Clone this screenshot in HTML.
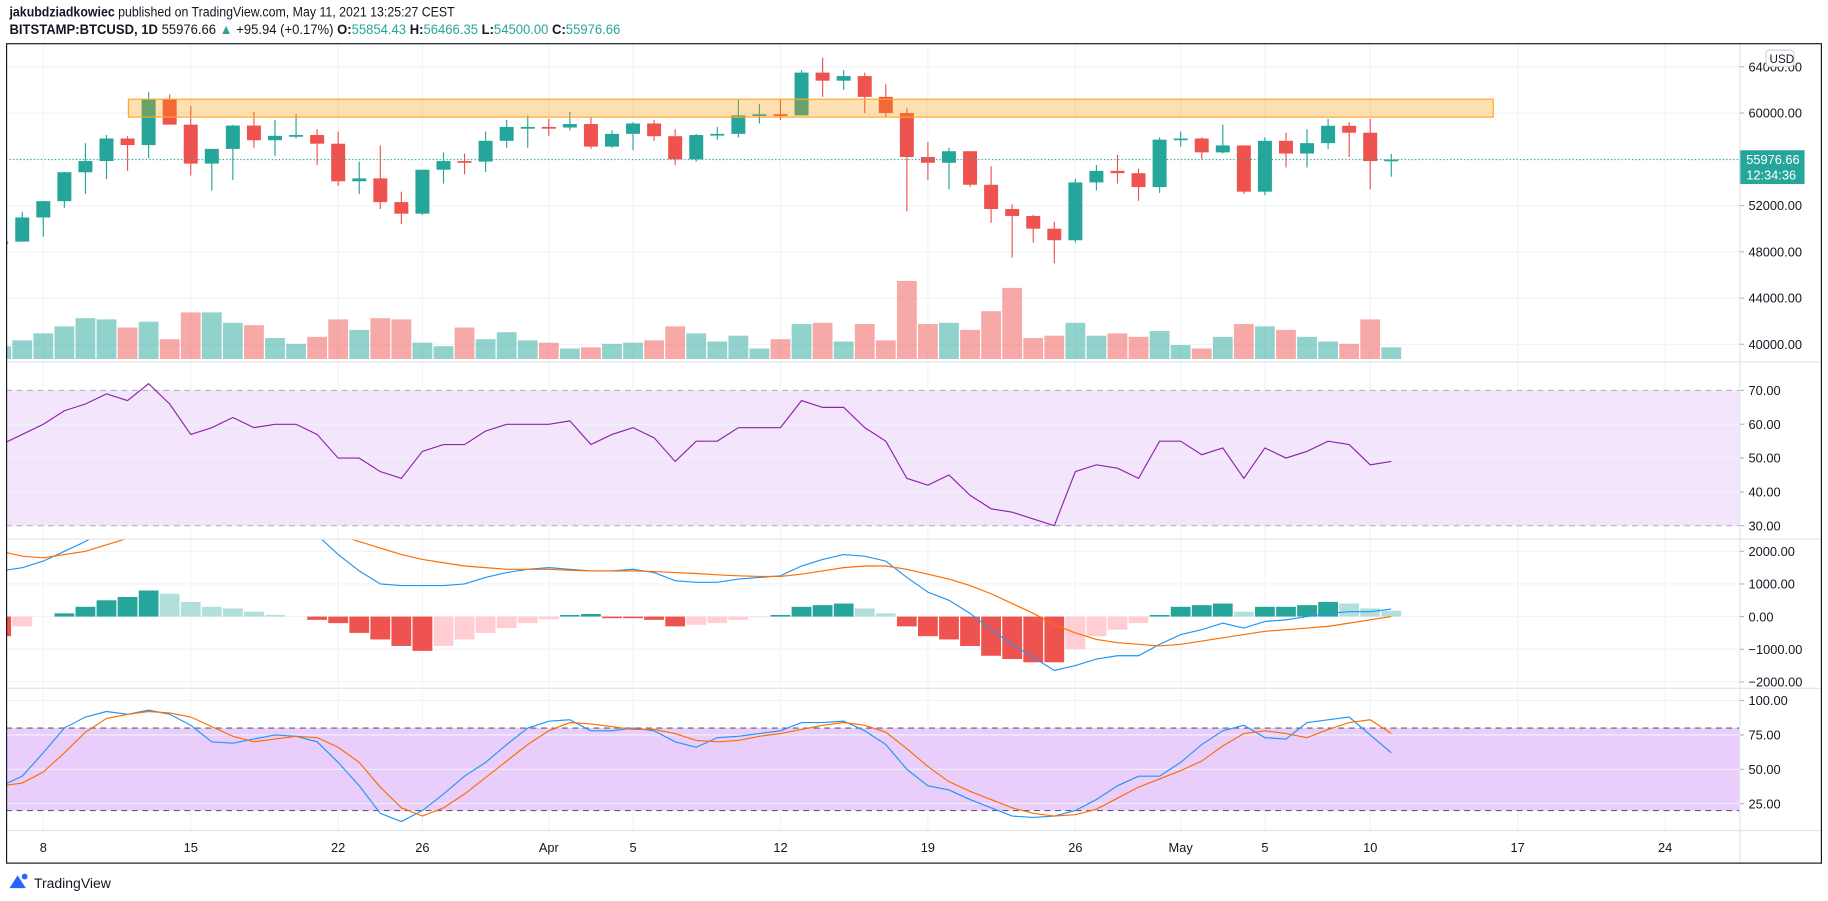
<!DOCTYPE html>
<html><head><meta charset="utf-8"><style>
html,body{margin:0;padding:0;background:#fff;}
svg{display:block;font-family:"Liberation Sans",sans-serif;}
</style></head><body>
<svg id="c" width="1828" height="901" viewBox="0 0 1568 773"></svg>
<script>
// ---- data ----
const dates=["Mar6","Mar7","Mar8","Mar9","Mar10","Mar11","Mar12","Mar13","Mar14","Mar15","Mar16","Mar17","Mar18","Mar19","Mar20","Mar21","Mar22","Mar23","Mar24","Mar25","Mar26","Mar27","Mar28","Mar29","Mar30","Mar31","Apr1","Apr2","Apr3","Apr4","Apr5","Apr6","Apr7","Apr8","Apr9","Apr10","Apr11","Apr12","Apr13","Apr14","Apr15","Apr16","Apr17","Apr18","Apr19","Apr20","Apr21","Apr22","Apr23","Apr24","Apr25","Apr26","Apr27","Apr28","Apr29","Apr30","May1","May2","May3","May4","May5","May6","May7","May8","May9","May10","May11"];
const opens=[48700,48880,50970,52380,54880,55850,57800,57230,61190,59000,55630,56900,58920,57650,58030,58100,57350,54100,54350,52300,51300,55100,55850,55800,57600,58800,58800,58750,59050,57100,58200,59100,58000,56000,58100,58200,59800,59900,59800,63500,62800,63200,61400,60000,56200,55700,56700,53800,51700,51100,50000,49000,54000,55000,54800,53600,57700,57800,56600,57200,53200,57600,56500,57400,58900,58300,55850];
const highs=[49200,51450,52400,54900,57400,58100,58000,61800,61600,60600,56900,58980,60100,59400,59900,58600,58400,55800,57200,53200,55100,56600,56500,58400,59400,59800,59500,60100,59700,58500,59200,59400,58600,58200,58800,61200,60800,61200,63700,64800,63700,63500,62500,60400,57500,57000,56500,55400,52100,51200,50600,54300,55500,56400,55200,57900,58400,57900,59000,57100,57900,58300,58600,59500,59200,59500,56466];
const lows=[48500,48880,49300,51800,53000,54300,55000,56100,59000,54600,53300,54200,57000,56300,57800,55500,53700,53000,51700,50400,51200,53900,54700,54900,57000,57000,58000,58500,56900,57000,56800,57600,55500,55800,57700,57900,59100,59400,59800,61400,62000,60000,59600,51500,54200,53400,53600,50500,47500,48800,47000,48800,53300,53900,52400,53100,57100,56000,56500,53000,52900,55300,55300,56900,56200,53400,54500];
const closes=[48880,50970,52380,54880,55850,57800,57230,61190,59000,55630,56900,58920,57650,58030,58100,57350,54100,54350,52300,51300,55100,55850,55800,57600,58800,58800,58750,59050,57100,58200,59100,58000,56000,58100,58200,59800,59900,59800,63500,62800,63200,61400,60000,56200,55700,56700,53800,51700,51100,50000,49000,54000,55000,54800,53600,57700,57800,56600,57200,53200,57600,56500,57400,58900,58300,55850,55977];
const volumes=[11,16,22,28,35,34,27,32,17,40,40,31,29,18,13,19,34,25,35,34,14,11,27,17,23,16,14,9,10,13,14,16,28,22,15,20,9,17,30,31,15,30,16,67,30,31,25,41,61,18,20,31,20,22,19,24,12,9,19,30,28,25,19,15,13,34,10];
const rsi=[54,57,60,64,66,69,67,72,66,57,59,62,59,60,60,57,50,50,46,44,52,54,54,58,60,60,60,61,54,57,59,56,49,55,55,59,59,59,67,65,65,59,55,44,42,45,39,35,34,32,30,46,48,47,44,55,55,51,53,44,53,50,52,55,54,48,49];
const macd=[1400,1500,1700,2000,2300,2700,3000,3400,3500,3400,3300,3200,3000,2900,2800,2500,1900,1400,1000,950,950,950,1000,1200,1350,1450,1500,1450,1400,1400,1450,1350,1100,1050,1050,1150,1200,1250,1550,1750,1900,1850,1700,1200,750,500,100,-400,-850,-1250,-1650,-1500,-1300,-1200,-1200,-850,-550,-400,-200,-350,-150,-100,0,100,150,150,230];
const signal=[2000,1850,1800,1900,2000,2200,2400,2600,2800,2950,3000,2950,2900,2850,2800,2650,2500,2300,2100,1900,1750,1650,1550,1500,1450,1450,1450,1420,1400,1400,1400,1380,1350,1320,1280,1250,1230,1230,1300,1400,1500,1550,1550,1450,1300,1150,950,700,400,100,-250,-500,-700,-800,-850,-900,-850,-750,-650,-550,-450,-400,-350,-300,-200,-100,0];
const hist=[-600,-300,0,100,300,500,600,800,700,450,300,250,150,50,0,-100,-200,-500,-700,-900,-1050,-900,-700,-500,-350,-200,-80,50,80,-50,-50,-100,-300,-250,-200,-100,-20,50,300,350,400,250,100,-300,-600,-700,-900,-1200,-1300,-1400,-1400,-1000,-600,-400,-200,50,300,350,400,150,300,300,350,450,400,250,180];
const stochK=[38,45,62,80,88,92,90,93,90,82,70,69,72,75,74,70,55,38,18,12,20,32,45,55,68,80,85,86,78,78,80,78,70,66,73,74,76,78,84,84,85,78,68,50,38,35,28,22,16,15,16,20,28,38,45,45,55,68,78,82,73,72,84,86,88,75,62];
const stochD=[38,40,48,62,77,87,90,92,91,88,81,74,70,72,74,73,66,55,37,22,16,22,32,44,56,68,78,84,83,81,79,79,76,71,70,71,74,76,79,82,84,82,77,65,52,41,34,28,22,18,16,17,21,29,37,43,49,56,67,76,78,76,73,79,84,86,76];
const priceTicks=[64000,60000,56000,52000,48000,44000,40000];
const rsiTicks=[70,60,50,40,30];
const macdTicks=[2000,1000,0,-1000,-2000];
const stochTicks=[100,75,50,25];
const timeLabels=["8","15","22","26","Apr","5","12","19","26","May","5","10","17","24"];
const timeDays=[2,9,16,20,26,30,37,44,51,56,60,65,72,79];

// ---- layout ----
const NS="http://www.w3.org/2000/svg";
const svg=document.getElementById('c');
const L=5,R=1492,RR=1563;
function el(tag,attrs,parent){const e=document.createElementNS(NS,tag);for(const k in attrs)e.setAttribute(k,attrs[k]);(parent||svg).appendChild(e);return e;}
const xd=i=>37+(i-2)*18.07;
const yP=p=>97+(60000-p)*0.00992;
const yV=v=>308-v;
const yR=v=>335+(70-v)*2.9;
const yM=v=>529-v*0.028;
const yS=v=>601+(100-v)*1.18;
const T_PRICE=[37,310],T_RSI=[311,462],T_MACD=[463,590],T_STO=[591,712];

const defs=el('defs',{});
[["cp",T_PRICE],["cr",T_RSI],["cm",T_MACD],["cs",T_STO]].forEach(([id,t])=>{const c=el('clipPath',{id},defs);el('rect',{x:L,y:t[0],width:R-L,height:t[1]-t[0]},c);});

// header
const h1=el('text',{x:8,y:14,'font-size':12,fill:'#131722',textLength:382,lengthAdjust:'spacingAndGlyphs'});

h1.innerHTML='<tspan font-weight="bold">jakubdziadkowiec</tspan> published on TradingView.com, May 11, 2021 13:25:27 CEST';
const h2=el('text',{x:8,y:29,'font-size':12,fill:'#131722',textLength:524,lengthAdjust:'spacingAndGlyphs'});

h2.innerHTML='<tspan font-weight="bold">BITSTAMP:BTCUSD, 1D</tspan> 55976.66 <tspan fill="#26a69a">▲</tspan> +95.94 (+0.17%) <tspan font-weight="bold">O:</tspan><tspan fill="#26a69a">55854.43</tspan> <tspan font-weight="bold">H:</tspan><tspan fill="#26a69a">56466.35</tspan> <tspan font-weight="bold">L:</tspan><tspan fill="#26a69a">54500.00</tspan> <tspan font-weight="bold">C:</tspan><tspan fill="#26a69a">55976.66</tspan>';

// vertical grid
timeDays.forEach(d=>{const g=el('line',{x1:xd(d),x2:xd(d),y1:37,y2:712,stroke:'#f0f3fa','stroke-width':1});});
function axis(ticks,fy,fmt,name){ticks.forEach(t=>{const y=fy(t);
 const g=el('line',{x1:L,x2:R,y1:y,y2:y,stroke:'#f0f3fa'});
 el('line',{x1:R,x2:R+4,y1:y,y2:y,stroke:'#b2b5be'});
 const tx=el('text',{x:R+8,y:y+4,'font-size':11,fill:'#131722'});tx.textContent=fmt(t);
 });}

// RSI band (under grid labels)
const rb=el('rect',{x:L,y:yR(70),width:R-L,height:yR(30)-yR(70),fill:'#f3e6fc'});

const sb=el('rect',{x:L,y:yS(80),width:R-L,height:yS(20)-yS(80),fill:'#e9cdfb'});


axis(priceTicks,yP,t=>t.toFixed(2),'price');
axis(rsiTicks,yR,t=>t.toFixed(2),'rsi');
axis(macdTicks,yM,t=>(t<0?'−':'')+Math.abs(t).toFixed(2),'macd');
axis(stochTicks,yS,t=>t.toFixed(2),'stoch');

// volume
const gv=el('g',{'clip-path':'url(#cp)'});
volumes.forEach((v,i)=>{const up=closes[i]>=opens[i];const r=el('rect',{x:xd(i)-8.5,y:yV(v),width:17,height:v,fill:up?'rgba(38,166,154,0.5)':'rgba(239,83,80,0.5)'},gv);
 });

// candles
const gc=el('g',{'clip-path':'url(#cp)'});
opens.forEach((o,i)=>{const c=closes[i],up=c>=o,col=up?'#26a69a':'#ef5350',x=xd(i);
 const w=el('line',{x1:x,x2:x,y1:yP(highs[i]),y2:yP(lows[i]),stroke:col,'stroke-width':1},gc);
 
 const t=Math.min(yP(o),yP(c)),b=Math.max(yP(o),yP(c));
 const r=el('rect',{x:x-6,y:t,width:12,height:Math.max(1.5,b-t),fill:col},gc);
 });

// resistance zone
const zone=el('rect',{x:110,y:yP(61200),width:1171,height:yP(59650)-yP(61200),fill:'rgba(255,152,0,0.3)',stroke:'#ffa726','stroke-width':1});


// last price line
const lp=el('line',{x1:L,x2:R,y1:yP(55977),y2:yP(55977),stroke:'#26a69a','stroke-dasharray':'1 2'});

const lb=el('rect',{x:R,y:yP(55977)-8,width:56,height:29,fill:'#26a69a'});

const lt=el('text',{x:R+6,y:yP(55977)+4,'font-size':11,fill:'#fff'});lt.textContent='55976.66';
const lt2=el('text',{x:R+6,y:yP(55977)+17,'font-size':11,fill:'#fff'});lt2.textContent='12:34:36';
const ub=el('rect',{x:1515,y:43,width:24,height:14,rx:3,fill:'#fff',stroke:'#d1d4dc'});

const ut=el('text',{x:1518,y:54,'font-size':10,fill:'#131722'});ut.textContent='USD';

// RSI
[70,30].forEach(v=>el('line',{x1:L,x2:R,y1:yR(v),y2:yR(v),stroke:'#b2b5be','stroke-dasharray':'5 4'}));
function line(arr,fy,col,clip,name){const p=el('polyline',{points:arr.map((v,i)=>xd(i)+','+fy(v)).join(' '),fill:'none',stroke:col,'stroke-width':1,'clip-path':clip});
 }
line(rsi,yR,'#8e24aa','url(#cr)','rsi-line');

// MACD
const gh=el('g',{'clip-path':'url(#cm)'});
hist.forEach((h,i)=>{const prev=i>0?hist[i-1]:h;let col;
 if(h>=0)col=h>=prev?'#26a69a':'#b2dfdb';else col=h<=prev?'#ef5350':'#ffcdd2';
 const r=el('rect',{x:xd(i)-8.5,y:Math.min(yM(h),yM(0)),width:17,height:Math.abs(yM(h)-yM(0)),fill:col},gh);
 });
line(macd,yM,'#2196f3','url(#cm)','macd-line');
line(signal,yM,'#ff6d00','url(#cm)','signal-line');

// Stoch
[80,20].forEach(v=>el('line',{x1:L,x2:R,y1:yS(v),y2:yS(v),stroke:'#5d606b','stroke-dasharray':'5 4'}));
line(stochK,yS,'#2196f3','url(#cs)','stoch-k-line');
line(stochD,yS,'#ff6d00','url(#cs)','stoch-d-line');

// pane separators & frame
[310.5,462.5,590.5,712.5].forEach(y=>el('line',{x1:L,x2:RR,y1:y,y2:y,stroke:'#e0e3eb'}));
el('line',{x1:R+0.5,x2:R+0.5,y1:37,y2:740,stroke:'#e0e3eb'});
const fr=el('rect',{x:L+0.5,y:37.5,width:RR-L-1,height:703,fill:'none',stroke:'#131722','stroke-width':1});


// time axis
timeLabels.forEach((t,k)=>{const tx=el('text',{x:xd(timeDays[k]),y:731,'font-size':11,fill:'#131722','text-anchor':'middle'});tx.textContent=t;
 });

// footer logo
const lg=el('g',{});
el('path',{d:'M8 762 L15 751 L22 762 Z',fill:'#2962ff'},lg);
el('circle',{cx:21,cy:752,r:2.5,fill:'#2962ff'},lg);
const lgt=el('text',{x:29,y:762,'font-size':12,fill:'#131722'},lg);lgt.textContent='TradingView';
</script>
</body></html>
